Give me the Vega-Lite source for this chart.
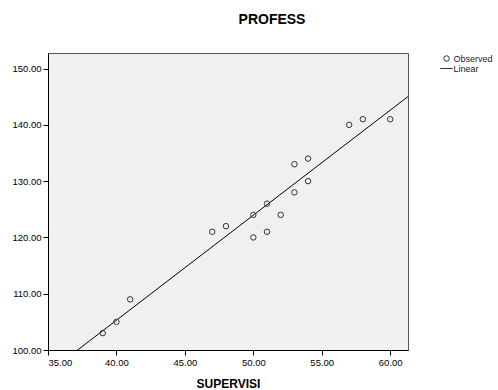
{
  "$schema": "https://vega.github.io/schema/vega-lite/v6.json",
  "autosize": "none",
  "padding": {"left": 48, "top": 53, "right": 90, "bottom": 40},
  "width": 360,
  "height": 297,
  "background": "white",
  "title": {
    "text": "PROFESS",
    "font": "Liberation Sans",
    "fontSize": 14,
    "fontWeight": "bold",
    "color": "black",
    "anchor": "middle",
    "frame": "group",
    "baseline": "alphabetic",
    "offset": 15,
    "dx": 44
  },
  "config": {
    "font": "Liberation Sans",
    "view": {"fill": "#f0f0f0", "stroke": "#555555", "strokeWidth": 1},
    "axis": {
      "grid": false,
      "domainColor": "#000000",
      "tickColor": "#000000",
      "tickSize": 5,
      "labelFont": "Liberation Sans",
      "labelFontSize": 9.5,
      "labelColor": "#000000",
      "labelPadding": 2,
      "titleFont": "Liberation Sans",
      "titleColor": "#000000"
    }
  },
  "data": {
    "values": [
      {"SUPERVISI": 39, "PROFESS": 103},
      {"SUPERVISI": 40, "PROFESS": 105},
      {"SUPERVISI": 41, "PROFESS": 109},
      {"SUPERVISI": 47, "PROFESS": 121},
      {"SUPERVISI": 48, "PROFESS": 122},
      {"SUPERVISI": 50, "PROFESS": 124},
      {"SUPERVISI": 50, "PROFESS": 120},
      {"SUPERVISI": 51, "PROFESS": 126},
      {"SUPERVISI": 51, "PROFESS": 121},
      {"SUPERVISI": 52, "PROFESS": 124},
      {"SUPERVISI": 53, "PROFESS": 133},
      {"SUPERVISI": 53, "PROFESS": 128},
      {"SUPERVISI": 54, "PROFESS": 134},
      {"SUPERVISI": 54, "PROFESS": 130},
      {"SUPERVISI": 57, "PROFESS": 140},
      {"SUPERVISI": 58, "PROFESS": 141},
      {"SUPERVISI": 60, "PROFESS": 141}
    ]
  },
  "layer": [
    {
      "transform": [
        {"regression": "PROFESS", "on": "SUPERVISI", "extent": [35, 61.3]}
      ],
      "mark": {"type": "line", "color": "#000000", "strokeWidth": 1, "clip": true},
      "encoding": {
        "x": {"field": "SUPERVISI", "type": "quantitative"},
        "y": {"field": "PROFESS", "type": "quantitative"}
      }
    },
    {
      "mark": {"type": "point", "filled": false, "stroke": "#333333", "strokeWidth": 1, "size": 30, "opacity": 1},
      "encoding": {
        "x": {
          "field": "SUPERVISI",
          "type": "quantitative",
          "scale": {"domain": [35, 61.3], "nice": false, "zero": false},
          "axis": {
            "values": [35, 40, 45, 50, 55, 60],
            "format": ".2f",
            "title": "SUPERVISI",
            "titleFontSize": 12,
            "titleFontWeight": "bold",
            "titlePadding": 12
          }
        },
        "y": {
          "field": "PROFESS",
          "type": "quantitative",
          "scale": {"domain": [100, 152.76], "nice": false, "zero": false},
          "axis": {
            "values": [100, 110, 120, 130, 140, 150],
            "format": ".2f",
            "title": null
          }
        },
        "shape": {
          "datum": "Observed",
          "scale": {"domain": ["Observed", "Linear"], "range": ["circle", "M-2.3,0H2.3"]},
          "legend": {
            "title": null,
            "orient": "none",
            "legendX": 394,
            "legendY": 1,
            "padding": 0,
            "rowPadding": 0,
            "labelFont": "Liberation Sans",
            "labelFontSize": 9,
            "labelColor": "#222222",
            "labelOffset": 2.5,
            "symbolSize": 30,
            "symbolFillColor": "transparent",
            "symbolStrokeColor": "#333333",
            "symbolStrokeWidth": 1
          }
        }
      }
    }
  ]
}
